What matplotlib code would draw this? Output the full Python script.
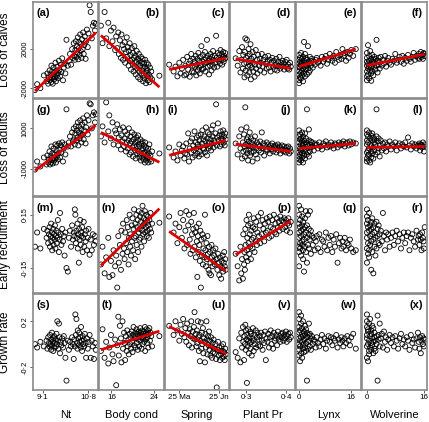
import matplotlib
matplotlib.use('Agg')
import matplotlib.pyplot as plt

plt.rcParams['font.family'] = ['Liberation Sans', 'DejaVu Sans']

# ---------------- predictors (shared by each column) ----------------
nt = [8.82, 8.90, 9.02, 9.15, 9.25, 9.28, 9.31, 9.34, 9.36, 9.38,
      9.40, 9.42, 9.43, 9.45, 9.46, 9.48, 9.50, 9.51, 9.53, 9.55,
      9.56, 9.58, 9.60, 9.62, 9.63, 9.65, 9.67, 9.69, 9.71, 9.73,
      9.75, 9.78, 9.80, 9.83, 9.86, 9.89, 9.92, 9.95, 9.99, 10.04,
      10.08, 10.12, 10.16, 10.20, 10.23, 10.26, 10.28, 10.30, 10.32, 10.34,
      10.36, 10.38, 10.40, 10.41, 10.43, 10.45, 10.46, 10.48, 10.50, 10.52,
      10.53, 10.55, 10.57, 10.59, 10.61, 10.63, 10.65, 10.67, 10.70, 10.72,
      10.75, 10.78, 10.81, 10.85, 10.89, 10.93, 10.97, 11.01, 11.05, 11.08]
body = [14.0, 14.3, 14.7, 15.0, 15.4, 15.6, 15.9, 16.2, 16.4, 16.7,
        16.9, 17.1, 17.3, 17.4, 17.6, 17.8, 17.9, 18.1, 18.2, 18.4,
        18.5, 18.6, 18.75, 18.9, 19.0, 19.1, 19.25, 19.3, 19.45, 19.55,
        19.6, 19.7, 19.85, 19.9, 20.0, 20.1, 20.2, 20.3, 20.35, 20.5,
        20.55, 20.6, 20.75, 20.8, 20.9, 21.0, 21.05, 21.15, 21.2, 21.3,
        21.35, 21.45, 21.5, 21.6, 21.7, 21.75, 21.85, 21.9, 22.0, 22.05,
        22.1, 22.2, 22.25, 22.35, 22.4, 22.5, 22.55, 22.65, 22.7, 22.8,
        22.85, 22.95, 23.0, 23.1, 23.2, 23.3, 23.4, 23.55, 23.7, 25.1]
spring = [137.0, 140.5, 142.0, 143.5, 145.0, 146.0, 147.0, 148.0, 149.0, 149.8,
          150.5, 151.2, 152.0, 152.6, 153.2, 153.8, 154.4, 155.0, 155.5, 156.0,
          156.5, 157.0, 157.5, 158.0, 158.4, 158.8, 159.2, 159.6, 160.0, 160.4,
          160.8, 161.2, 161.6, 162.0, 162.4, 162.8, 163.2, 163.6, 164.0, 164.4,
          164.8, 165.2, 165.6, 166.0, 166.4, 166.8, 167.2, 167.6, 168.0, 168.4,
          168.8, 169.2, 169.6, 170.0, 170.4, 170.8, 171.2, 171.6, 172.0, 172.5,
          173.0, 173.5, 174.0, 174.5, 175.0, 175.5, 176.0, 176.5, 177.0, 177.5,
          178.0, 178.4, 178.8, 179.2, 179.6, 180.0, 180.4, 180.8, 181.2, 181.6]
plant = [0.274, 0.279, 0.283, 0.286, 0.288, 0.290, 0.292, 0.293, 0.295, 0.296,
         0.297, 0.298, 0.299, 0.300, 0.301, 0.302, 0.303, 0.304, 0.305, 0.306,
         0.307, 0.308, 0.309, 0.310, 0.311, 0.312, 0.313, 0.314, 0.316, 0.317,
         0.318, 0.319, 0.321, 0.322, 0.324, 0.325, 0.327, 0.328, 0.330, 0.332,
         0.334, 0.335, 0.337, 0.339, 0.341, 0.343, 0.345, 0.347, 0.349, 0.351,
         0.353, 0.355, 0.357, 0.359, 0.361, 0.363, 0.365, 0.367, 0.369, 0.371,
         0.373, 0.375, 0.377, 0.379, 0.381, 0.383, 0.385, 0.387, 0.389, 0.391,
         0.393, 0.395, 0.397, 0.399, 0.401, 0.403, 0.405, 0.407, 0.409, 0.411]
lynx = [0.0, 0.0, 0.0, 0.0, 0.0, 0.0, 0.0, 0.0, 0.3, 0.3,
        0.3, 0.3, 0.6, 0.6, 0.6, 0.6, 0.9, 0.9, 0.9, 0.9,
        1.2, 1.2, 1.2, 1.2, 1.5, 1.5, 1.5, 1.8, 1.8, 1.8,
        2.1, 2.1, 2.1, 2.4, 2.4, 2.4, 2.7, 2.7, 3.0, 3.0,
        3.0, 3.3, 3.3, 3.6, 3.6, 3.9, 4.2, 4.5, 4.8, 5.1,
        5.4, 5.8, 6.2, 6.6, 7.0, 7.4, 7.8, 8.2, 8.6, 9.0,
        9.4, 9.8, 10.2, 10.6, 11.0, 11.4, 11.8, 12.2, 12.6, 13.0,
        13.3, 13.6, 14.0, 14.4, 14.8, 15.2, 15.6, 16.0, 16.6, 17.4]
wolv = [0.0, 0.0, 0.0, 0.0, 0.0, 0.0, 0.0, 0.3, 0.3, 0.3,
        0.3, 0.6, 0.6, 0.6, 0.6, 0.9, 0.9, 0.9, 1.2, 1.2,
        1.2, 1.2, 1.5, 1.5, 1.5, 1.8, 1.8, 1.8, 2.1, 2.1,
        2.1, 2.4, 2.4, 2.7, 2.7, 3.0, 3.0, 3.3, 3.3, 3.6,
        3.6, 3.9, 4.2, 4.5, 4.8, 5.1, 5.4, 5.7, 6.0, 6.4,
        6.8, 7.2, 7.6, 8.0, 8.4, 8.8, 9.2, 9.6, 10.0, 10.4,
        10.8, 11.2, 11.6, 12.0, 12.4, 12.8, 13.2, 13.6, 14.0, 14.4,
        14.6, 14.8, 15.0, 15.2, 15.4, 15.6, 15.8, 16.0, 16.1, 16.3]

# ---------------- responses (partial residuals), one list per panel ----------------
# Row 1: loss of calves
ya = [-2200, -1600, -2000, -700, -1300, -500, -1550, -900, -200, -1200,
      -600, -1400, 300, -1000, -300, -1550, -750, 100, -1100, -400,
      -900, 600, -1300, -200, -700, 200, -1000, -450, 800, -150,
      -800, 400, -350, 1050, -1200, 100, 500, -500, 2950, 300,
      800, 1500, 400, 2000, 1100, 2600, 1300, 900, 1900, 2800,
      1200, 2300, 1600, 3200, 950, 2100, 2700, 1400, 3500, 1800,
      2500, 1100, 3000, 2000, 3700, 1500, 2400, 3300, 1000, 2800,
      4000, 2200, 3600, 6500, 5800, 3100, 4400, 4700, 3900, 4600]
yb = [4400, 2600, 5800, 3100, 4700, 2300, 3900, 2800, 4200, 1900,
      3300, 2100, 3700, 1500, 2900, 1100, 3500, 2400, 900, 2000,
      2700, 600, 1700, 3200, 1200, 2200, 300, 1800, 2600, 800,
      1400, -100, 2100, 900, 500, 1600, -300, 1100, 2300, 200,
      1300, -600, 700, 1800, 0, 1000, -900, 500, 1500, -300,
      800, -1100, 300, 1200, -500, 600, -200, 1000, -1300, 100,
      -700, 500, -1000, 200, 900, -400, -1500, 0, 600, -800,
      -200, -1200, 400, -600, -1400, 100, -900, -300, -1100, -730]
yc = [400, -300, 200, -800, 600, -500, 0, 900, -700, 300,
      -600, 1200, -100, 500, -835, 800, 1500, -300, 300, 1000,
      -400, 700, 200, 1300, -700, 400, 1000, -200, 1600, 100,
      800, -500, 1200, 300, 2300, -100, 700, 1400, 0, 900,
      500, 1700, -300, 1100, 600, 2950, 200, 1300, 800, -600,
      1000, 300, 1500, 700, -200, 1200, 400, 1800, 900, 100,
      1300, 600, 3365, 1100, 200, 1600, 800, 1400, 500, 1900,
      900, 1500, 400, 1200, 1700, 700, 1300, 1000, 1600, 1100]
yd = [1055, 300, 1800, -400, 900, 2200, 0, 1400, 500, -900,
      1700, 3100, -200, 1100, 600, 2950, -700, 1300, 200, 2000,
      800, -400, 1500, 300, 2500, -1100, 1000, 100, 1700, 600,
      -300, 1200, -835, 400, 1900, 0, 900, -500, 1400, 300,
      1000, -200, 600, 1500, 200, 900, -400, 1200, 500, 0,
      700, 1300, 100, 900, -300, 600, 1100, 200, 800, -100,
      400, 1000, -200, 700, 300, 1200, 0, 600, 200, 800,
      500, -100, 700, 200, 900, 0, 400, -100, 600, 200]
ye = [200, -600, 900, -1200, 500, -300, 1400, -1500, 100, 700,
      -900, 1100, 300, -400, 1600, -1000, 600, -200, 1000, -700,
      400, -1300, 1200, 0, 2735, -500, 800, 200, 1500, -800,
      600, -100, 1100, -600, 300, 900, 2300, 0, 700, -400,
      500, 1200, -200, 800, 300, 1000, 100, 700, 400, 900,
      1100, 600, 800, 300, 1200, 700, 1000, 1300, 500, 900,
      1500, 1100, 800, 1300, 600, 1700, 1200, 900, 1400, 1000,
      2000, 1300, 1600, 800, 1700, 1100, 1500, 1900, 1300, 2000]
yf = [300, -800, 1100, -300, 1600, -1200, 700, 2400, 0, 500,
      -600, 1300, 200, -1000, 800, -200, 1800, 400, -500, 1000,
      100, -1255, 700, 1400, -300, 500, 900, -700, 1200, 200,
      600, -100, 1000, 300, 2945, -400, 800, 400, 1100, 0,
      700, 1200, 300, 900, 500, 1300, 200, 800, 1100, 600,
      400, 1000, 800, 1500, 600, 900, 1200, 700, 1300, 500,
      1100, 800, 1400, 1000, 700, 1200, 1600, 900, 1300, 1100,
      1500, 1000, 1300, 1700, 1200, 1400, 1000, 1600, 1500, 1300]
# Row 2: loss of adults
yg = [-1050, -650, -900, -450, -800, -350, -700, -550, -150, -800,
      -400, -700, 100, -550, -250, -750, -450, 0, -600, -300,
      -500, 200, -700, -100, -400, 150, -550, -250, 250, -50,
      -450, 150, -200, 300, -650, 0, 200, -300, 1950, 100,
      300, 600, 100, 800, 350, 1000, 450, 200, 750, 1100,
      400, 900, 550, 1300, 150, 800, 1100, 500, 1400, 650,
      950, 300, 1200, 700, 1500, 450, 900, 1300, 250, 1050,
      1650, 700, 1400, 2250, 2200, 1000, 1650, 1800, 1300, 1700]
yh = [600, 1100, 300, 2300, 850, 1650, 500, 1300, 200, 900,
      750, 1200, 150, 550, 950, -50, 650, 350, 1050, 100,
      500, 850, -150, 300, 700, 0, 400, 1000, -300, 250,
      600, -200, 350, 800, 50, -400, 450, 150, 700, -100,
      300, -500, 550, 100, -250, 400, 650, -150, 200, -450,
      100, -300, 450, -600, 250, -100, -450, 350, 0, -250,
      -550, 150, -200, -700, 300, -400, 50, -600, -100, -350,
      -450, 0, -700, -250, 200, -550, -350, -650, -150, -250]
yi = [50, -450, -150, -600, 200, -350, -100, 100, -500, -250,
      250, -300, 750, -650, 0, 350, -200, 500, -450, 150,
      -100, 850, -350, 300, 0, 550, -250, 200, 650, -400,
      400, -150, 100, 700, -300, 250, 900, 0, 450, -50,
      600, -200, 350, 1050, 150, -350, 500, 800, 0, 300,
      700, 100, 450, -100, 950, 250, 600, 1150, 50, 400,
      300, 750, 2200, 150, 550, 1250, 400, 650, 100, 850,
      500, 200, 700, 400, 900, 300, 600, 150, 750, 450]
yj = [250, -300, 600, 0, 950, -500, 300, -150, 700, 100,
      -400, 2050, 200, -100, 1050, 450, -250, 550, -600, 150,
      350, -50, 800, -350, 100, 500, -200, 250, -650, 50,
      400, -150, 150, 600, -300, 0, 300, -500, 200, -100,
      100, 350, -200, 800, 0, 250, -350, 150, -50, 300,
      -100, 200, 50, -250, 150, -50, 250, -150, 100, 0,
      150, -200, 50, 200, -100, 100, -250, 0, 150, -50,
      -150, 100, -50, -200, 50, -100, 100, -250, 0, -150]
yk = [100, -400, 600, -700, 300, -200, 900, -550, 0, 450,
      -300, 700, 200, -600, 500, -100, 800, -450, 350, -250,
      150, -700, 600, 0, 400, -350, 250, -150, 750, -500,
      300, -50, 500, -300, 200, 1950, -200, 100, 400, -400,
      950, 200, -150, 350, 50, 300, 100, -100, 250, 150,
      200, 0, 300, 100, -50, 250, 150, 350, 50, 200,
      100, 300, 150, 0, 250, 200, 50, 300, 150, 250,
      200, 350, 100, 250, 300, 150, 350, 200, 300, 250]
yl = [200, -500, 700, -200, 900, -650, 400, -100, 600, -350,
      300, -600, 800, 0, -300, 500, -700, 200, 650, -150,
      100, -450, 400, 750, -250, 50, 550, -500, 300, -100,
      450, -300, 200, 600, 1950, -200, 350, 0, 500, -400,
      150, 400, -100, 250, 0, 300, -150, 200, 100, 350,
      -50, 200, 100, 300, -100, 150, 250, 0, 200, 100,
      300, 50, 550, 150, -50, 250, 100, 200, 0, 150,
      100, 250, -100, 200, 150, 50, 300, 100, -150, 200]
# Row 3: early recruitment
ym = [-0.03, 0.05, -0.04, 0.07,
      0.02, 0.06, -0.01, 0.04, 0.08, -0.03, 0.03, 0.10, 0.00, 0.05,
      -0.05, 0.02, 0.07, -0.02, 0.04, 0.01, 0.09, -0.04, 0.03, 0.06,
      -0.01, 0.02, 0.12, 0.05, -0.06, 0.01, 0.16, 0.04, -0.02, 0.07,
      0.00, 0.03, -0.08, 0.05,
      -0.15, -0.17, 0.02, 0.06, -0.03, 0.09, 0.01, 0.05,
      0.03, 0.18, 0.15, -0.01, 0.06, 0.02, 0.10, -0.04, 0.04, -0.12,
      0.07, 0.01, 0.12, -0.02, 0.05, 0.03, 0.08, -0.06, 0.02, 0.11,
      -0.03, 0.04, 0.00, 0.06, -0.05, 0.02, 0.07, -0.075,
      0.01, -0.05, 0.04, -0.02, 0.03, 0.00]
yn = [-0.13, -0.03, -0.18, -0.09, 0.02, -0.20, -0.11, -0.19, -0.05, -0.14,
      -0.08, -0.26, 0.03, -0.12, -0.02, -0.16, 0.06, -0.07, 0.10, -0.04,
      -0.10, 0.05, -0.01, 0.12, -0.06, 0.08, -0.13, 0.02, 0.15, -0.03,
      0.04, -0.08, 0.09, 0.00, 0.13, -0.05, 0.07, 0.18, 0.02, -0.10,
      0.10, 0.03, 0.15, -0.02, 0.08, 0.12, -0.06, 0.05, 0.17, 0.01,
      0.07, 0.14, 0.02, 0.11, -0.03, 0.16, 0.06, 0.20, 0.09, 0.04,
      0.13, 0.00, 0.10, 0.17, 0.05, 0.12, 0.08, 0.15, 0.03, 0.11,
      0.06, 0.14, 0.09, 0.02, 0.12, 0.07, 0.16, 0.05, 0.10, 0.105]
yo = [0.14, 0.05, 0.10, -0.01, 0.08, 0.16, 0.02, 0.12, -0.04, 0.06,
      0.17, -0.02, 0.09, 0.15, 0.01, -0.07, 0.11, 0.04, -0.05, 0.07,
      0.16, -0.03, 0.05, -0.09, 0.08, 0.00, -0.20, 0.03, -0.06, 0.10,
      -0.02, -0.11, 0.06, -0.26, 0.01, -0.08, 0.04, -0.13, -0.04, 0.02,
      -0.09, 0.15, -0.05, -0.14, -0.01, -0.10, 0.03, -0.07, -0.16, -0.03,
      -0.18, -0.06, -0.12, -0.19, -0.02, -0.09, -0.14, -0.05, -0.11, -0.08,
      -0.13, -0.04, -0.32, -0.10, -0.16, -0.07, -0.12, -0.19, -0.09, -0.14,
      -0.21, -0.11, -0.15, -0.08, -0.17, -0.12, -0.06, -0.14, -0.10, -0.16]
yp = [-0.07, -0.14, -0.22, -0.03, -0.18, -0.10, -0.21, 0.04, -0.13, -0.06,
      -0.16, 0.07, -0.02, -0.09, 0.12, -0.05, 0.02, -0.11, 0.09, -0.01,
      0.15, -0.07, 0.04, -0.03, 0.10, -0.10, 0.06, 0.01, -0.04, 0.08,
      0.02, 0.13, -0.06, 0.07, 0.00, 0.11, -0.02, 0.05, 0.14, 0.03,
      0.09, -0.01, 0.16, 0.04, 0.12, 0.07, 0.00, 0.10, 0.05, 0.13,
      0.06, 0.11, 0.02, 0.14, 0.08, 0.03, 0.12, 0.07, 0.15, 0.05,
      0.10, 0.04, 0.13, 0.08, 0.11, 0.06, 0.14, 0.09, 0.12, 0.07,
      0.11, 0.13, 0.08, 0.12, 0.06, 0.10, 0.13, 0.09, 0.05, 0.11]
yq = [0.20, 0.05, -0.03, 0.10, -0.14, 0.02, 0.15, -0.06, 0.08, -0.01,
      0.12, -0.04, 0.06, 0.18, -0.08, 0.03, 0.09, -0.02, 0.14, 0.00,
      -0.05, 0.07, 0.11, -0.10, 0.04, -0.17, 0.01, 0.08, -0.03, 0.13,
      0.05, -0.06, 0.17, 0.02, -0.12, 0.09, 0.15, -0.02, 0.04, 0.07,
      -0.04, 0.01, 0.17, 0.06, -0.07, 0.03, -0.02, 0.02, -0.05, 0.00,
      0.03, -0.04, 0.04, -0.06, 0.01, 0.00, -0.03, 0.05, -0.05, 0.02,
      -0.02, 0.03, -0.06, 0.01, -0.03, 0.04, -0.12, -0.01, 0.02, -0.04,
      0.00, -0.03, 0.02, -0.05, -0.01, -0.02, 0.01, -0.04, -0.06, -0.05]
yr = [0.18, 0.05, -0.04, 0.10, -0.12, 0.02, 0.14, -0.07, 0.08, -0.01,
      0.12, -0.05, 0.06, 0.16, -0.09, 0.03, 0.09, -0.02, 0.11, -0.16,
      0.00, 0.07, -0.06, 0.13, 0.04, -0.18, 0.01, 0.08, -0.03, 0.10,
      0.05, -0.08, 0.02, 0.11, -0.04, 0.07, 0.03, -0.01, 0.09, 0.04,
      -0.02, 0.06, 0.00, 0.16, 0.03, -0.05, 0.05, 0.01, 0.04, -0.03,
      0.02, 0.05, -0.02, 0.03, 0.06, 0.00, 0.04, -0.04, 0.02, 0.05,
      -0.01, 0.03, 0.05, -0.05, 0.02, 0.04, 0.00, -0.03, 0.06, 0.01,
      0.03, -0.02, 0.04, 0.01, -0.05, 0.05, 0.02, 0.00, -0.04, 0.08]
# Row 4: growth rate
ys_ = [0.0, -0.03, 0.02, -0.02,
       0.03, -0.04, 0.06, 0.01, -0.02, 0.08, 0.00, -0.05, 0.04, 0.10,
       -0.01, 0.02, -0.06, 0.05, 0.07, -0.03, 0.01, 0.04, -0.02, 0.09,
       0.00, 0.20, 0.03, -0.04, 0.18, 0.06, -0.08, 0.02, -0.01, 0.05,
       -0.03, 0.07, 0.01, -0.12,
       -0.32, 0.03, -0.05, 0.02, -0.02, 0.06, 0.00, -0.13,
       0.04, -0.02, 0.26, 0.08, 0.22, 0.01, -0.04, 0.12, 0.05, -0.01,
       0.10, 0.02, 0.06, -0.03, 0.15, 0.03, -0.06, 0.07, 0.00, 0.04,
       -0.02, 0.09, 0.01, -0.12, 0.05, -0.04, 0.02, 0.08,
       -0.12, 0.03, -0.02, -0.13, 0.01, -0.05]
yt = [-0.06, 0.13, -0.12, 0.02, -0.17, -0.03, 0.08, -0.09, -0.15, 0.04,
      -0.36, -0.01, 0.24, -0.10, 0.16, 0.05, -0.16, 0.20, -0.04, 0.10,
      0.01, -0.14, 0.07, -0.06, 0.12, -0.02, 0.04, -0.09, 0.09, 0.00,
      0.06, -0.04, 0.11, 0.02, -0.07, 0.08, 0.15, -0.01, 0.05, 0.10,
      -0.03, 0.07, 0.13, 0.01, 0.09, -0.05, 0.04, 0.11, 0.06, -0.02,
      0.08, 0.14, 0.03, 0.10, -0.04, 0.06, 0.12, 0.00, 0.09, 0.05,
      0.11, 0.02, 0.07, 0.15, -0.06, 0.10, 0.04, 0.13, 0.08, 0.01,
      0.06, 0.12, -0.03, 0.09, 0.14, 0.03, 0.10, 0.07, -0.02, 0.07]
yu = [0.16, 0.08, 0.20, 0.12, 0.03, 0.17, 0.09, 0.22, 0.06, 0.14,
      0.02, 0.18, 0.10, -0.01, 0.13, 0.07, 0.20, -0.03, 0.11, 0.05,
      0.15, 0.28, 0.04, 0.09, -0.02, 0.12, 0.01, 0.20, 0.06, -0.06,
      0.08, -0.15, 0.03, 0.19, -0.04, 0.10, 0.00, 0.14, -0.08, 0.05,
      0.02, -0.16, 0.09, -0.03, 0.20, 0.04, -0.09, 0.07, -0.01, 0.11,
      -0.05, 0.03, -0.10, 0.06, -0.02, -0.12, 0.01, -0.07, 0.04, -0.04,
      -0.08, 0.00, -0.13, -0.38, -0.05, 0.02, -0.10, -0.03, -0.14, -0.06,
      -0.09, -0.02, -0.12, -0.06, 0.00, -0.11, -0.07, -0.14, -0.04, -0.09]
yv = [-0.07, -0.12, 0.05, -0.16, 0.10, -0.03, 0.15, 0.02, -0.14, 0.07,
      0.00, 0.17, -0.05, 0.12, 0.04, -0.34, 0.08, -0.02, 0.13, 0.03,
      -0.08, 0.06, 0.01, 0.11, -0.04, 0.09, 0.02, -0.10, 0.05, 0.14,
      0.03, -0.06, 0.08, 0.00, 0.12, -0.03, 0.06, 0.10, -0.01, 0.04,
      0.07, -0.02, 0.10, 0.03, -0.05, 0.08, 0.01, 0.11, -0.14, 0.05,
      0.02, 0.09, -0.03, 0.06, 0.12, 0.00, 0.07, -0.04, 0.10, 0.03,
      0.05, 0.08, -0.01, 0.11, 0.04, 0.07, 0.02, 0.09, 0.06, 0.10,
      0.03, 0.08, 0.05, 0.11, 0.02, 0.07, 0.09, 0.04, 0.10, 0.06]
yw = [0.28, 0.05, -0.10, 0.15, 0.00, 0.22, -0.05, 0.10, -0.15, 0.03,
      0.12, -0.02, 0.18, 0.06, -0.08, 0.25, 0.02, 0.09, -0.12, 0.14,
      -0.04, 0.07, 0.20, -0.01, 0.11, -0.07, 0.04, 0.16, -0.03, 0.08,
      0.01, 0.13, -0.06, 0.06, -0.32, 0.10, 0.02, -0.04, 0.08, 0.18,
      0.03, -0.02, 0.09, 0.05, -0.05, 0.07, 0.00, 0.04, 0.02, -0.03,
      0.06, 0.01, -0.02, 0.04, 0.08, 0.00, 0.05, -0.04, 0.03, 0.07,
      0.02, 0.06, -0.01, 0.05, 0.03, 0.08, -0.03, 0.04, 0.01, 0.06,
      0.03, -0.02, 0.05, 0.01, 0.07, 0.03, -0.01, 0.06, 0.09, -0.04]
yx = [0.26, 0.05, -0.12, 0.15, -0.02, 0.20, 0.08, -0.15, 0.11, 0.00,
      0.13, -0.06, 0.18, 0.03, -0.09, 0.22, 0.07, -0.03, 0.12, 0.01,
      -0.05, 0.09, 0.16, -0.01, 0.05, -0.08, 0.14, 0.02, 0.06, -0.04,
      0.10, 0.03, -0.06, 0.07, 0.00, 0.25, -0.32, 0.04, 0.08, -0.02,
      0.18, 0.05, 0.09, -0.03, 0.11, 0.02, 0.06, -0.05, 0.04, 0.08,
      0.01, 0.06, -0.02, 0.07, 0.03, -0.04, 0.05, 0.09, 0.00, 0.04,
      -0.02, 0.06, 0.03, -0.05, 0.08, 0.01, 0.04, -0.03, 0.05, 0.10,
      0.02, -0.04, 0.06, -0.08, 0.03, 0.07, 0.00, 0.05, -0.02, 0.04]

# fitted lines: y at the smallest and largest x of the column
fit_lines = {
    'a': (-2300, 3680), 'b': (3400, -1900), 'c': (-90, 1060), 'd': (1000, 12),
    'e': (215, 2000), 'f': (320, 1475),
    'g': (-1100, 1150), 'h': (800, -690), 'i': (-340, 400), 'j': (220, -150),
    'k': (0, 250), 'l': (50, 100),
    'n': (-0.136, 0.184), 'o': (0.056, -0.167), 'p': (-0.075, 0.115),
    't': (-0.05, 0.114), 'u': (0.154, -0.083),
}

x_cols = [nt, body, spring, plant, lynx, wolv]
y_panels = [ya, yb, yc, yd, ye, yf, yg, yh, yi, yj, yk, yl,
            ym, yn, yo, yp, yq, yr, ys_, yt, yu, yv, yw, yx]
letters = 'abcdefghijklmnopqrstuvwx'
left_labels = set('agimnst')
row_labels = ['Loss of calves', 'Loss of adults', 'Early recruitment', 'Growth rate']
col_labels = ['Nt', 'Body cond', 'Spring', 'Plant Pr', 'Lynx', 'Wolverine']
xticks = [[9.1, 10.8], [16, 24], [145, 176], [0.3, 0.4], [0, 16], [0, 16]]
xticklabels = [['9·1', '10·8'], ['16', '24'], ['25 Ma', '25 Jn'],
               ['0·3', '0·4'], ['0', '16'], ['0', '16']]
yticks = [[-2000, 2000], [-1000, 1000], [-0.15, 0.15], [-0.2, 0.2]]
yticklabels = [['-2000', '2000'], ['-1000', '1000'], ['-0·15', '0·15'], ['-0·2', '0·2']]
xlims = [(8.746, 11.154), (13.6, 25.9), (133.4, 184.5), (0.261, 0.422),
         (-0.9, 19.0), (-1.4, 16.9)]
ylims = [(-3050, 6830), (-2350, 2450), (-0.29, 0.252), (-0.404, 0.44)]

W, H = 429, 422
fig = plt.figure(figsize=(W / 100, H / 100), dpi=100)

x0, cw, aw = 33.0, 65.8, 64.8
y0, rh, ah = 2.0, 97.3, 96.3
border = '#8a8a8a'

for r in range(4):
    for c in range(6):
        k = r * 6 + c
        letter = letters[k]
        left = x0 + c * cw
        top = y0 + r * rh
        ax = fig.add_axes([left / W, 1 - (top + ah) / H, aw / W, ah / H])
        xs = x_cols[c]
        yv_ = y_panels[k]
        n = min(len(xs), len(yv_))
        ax.scatter(xs[:n], yv_[:n], s=13, facecolors='none', edgecolors='black',
                   linewidths=0.6, zorder=2)
        if letter in fit_lines:
            y_a, y_b = fit_lines[letter]
            ax.plot([min(xs), max(xs)], [y_a, y_b], color='#dd0000', lw=2.0,
                    zorder=3, solid_capstyle='butt')
        ax.set_xlim(*xlims[c])
        ax.set_ylim(*ylims[r])
        for sp in ax.spines.values():
            sp.set_color(border)
            sp.set_linewidth(1.2)
        ax.tick_params(direction='out', length=2, width=0.6, color='#444444', pad=1)
        if r == 3:
            ax.set_xticks(xticks[c])
            ax.set_xticklabels(xticklabels[c], fontsize=5.8)
        else:
            ax.set_xticks([])
        if c == 0:
            ax.set_yticks(yticks[r])
            ax.set_yticklabels(yticklabels[r], fontsize=5.3, rotation=90, va='center')
        else:
            ax.set_yticks([])
        if letter in left_labels:
            ax.annotate('(' + letter + ')', xy=(0, 1), xycoords='axes fraction',
                        xytext=(2.3, -8.0), textcoords='offset points',
                        ha='left', va='center', fontsize=8, fontweight='bold')
        else:
            ax.annotate('(' + letter + ')', xy=(1, 1), xycoords='axes fraction',
                        xytext=(-3.0, -8.0), textcoords='offset points',
                        ha='right', va='center', fontsize=8, fontweight='bold')

for r in range(4):
    yc_ = y0 + r * rh + ah / 2
    fig.text(5.5 / W, 1 - yc_ / H, row_labels[r], rotation=90, ha='center', va='center',
             fontsize=8.5)
for c in range(6):
    xc_ = x0 + c * cw + aw / 2
    fig.text(xc_ / W, 1 - 415 / H, col_labels[c], ha='center', va='center', fontsize=8)

fig.savefig('out.png', dpi=100)
